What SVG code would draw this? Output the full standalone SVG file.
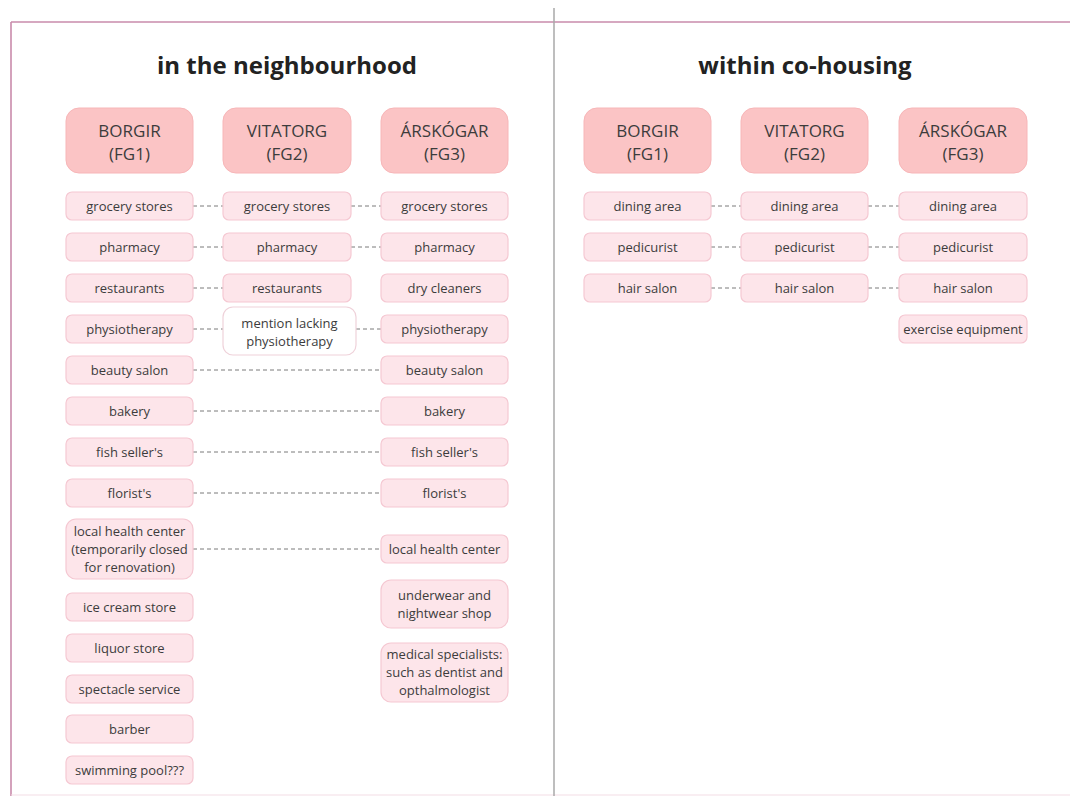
<svg xmlns="http://www.w3.org/2000/svg" width="1070" height="796" viewBox="0 0 1070 796">
<style>
text{font-family:"Open Sans","Noto Sans","Liberation Sans",sans-serif;fill:#3c3c3c;text-anchor:middle}
.title{font-size:24px;font-weight:bold;fill:#222}
.hd rect{fill:#fbc4c5;stroke:#f7b6b8;stroke-width:1}
.hd text{font-size:17px}
.n rect{fill:#fde5ea;stroke:#f5c8d2;stroke-width:1.2}
.n text,.w text{font-size:13px}
.w rect{fill:#ffffff;stroke:#efd2da;stroke-width:1.2}
#connectors line{stroke:#7a7a7a;stroke-width:1;stroke-dasharray:4 3}
</style>
<rect width="1070" height="796" fill="#ffffff"/>
<g id="frame">
<line x1="11" y1="22" x2="1070" y2="22" stroke="#c98bab" stroke-width="1.6"/>
<line x1="11" y1="22" x2="11" y2="796" stroke="#c98bab" stroke-width="1.6"/>
<line x1="11" y1="795" x2="1070" y2="795" stroke="#f3dde6" stroke-width="1.2"/>
<line x1="554" y1="8" x2="554" y2="796" stroke="#a9a9a9" stroke-width="1.5"/>
</g>
<text class="title" x="287" y="74">in the neighbourhood</text>
<text class="title" x="805" y="74">within co-housing</text>

<g id="connectors">
<line x1="193" y1="206" x2="223" y2="206"/>
<line x1="351" y1="206" x2="381" y2="206"/>
<line x1="193" y1="247" x2="223" y2="247"/>
<line x1="351" y1="247" x2="381" y2="247"/>
<line x1="193" y1="288" x2="223" y2="288"/>
<line x1="193" y1="329" x2="223" y2="329"/>
<line x1="356" y1="329" x2="381" y2="329"/>
<line x1="193" y1="370" x2="381" y2="370"/>
<line x1="193" y1="411" x2="381" y2="411"/>
<line x1="193" y1="452" x2="381" y2="452"/>
<line x1="193" y1="493" x2="381" y2="493"/>
<line x1="193" y1="549" x2="381" y2="549"/>
<line x1="711" y1="206" x2="741" y2="206"/>
<line x1="868" y1="206" x2="899" y2="206"/>
<line x1="711" y1="247" x2="741" y2="247"/>
<line x1="868" y1="247" x2="899" y2="247"/>
<line x1="711" y1="288" x2="741" y2="288"/>
<line x1="868" y1="288" x2="899" y2="288"/>
</g>

<!-- headers left -->
<g id="h-l-fg1" class="hd"><rect x="66" y="108" width="127" height="65" rx="13"/><text x="129.5" y="136.5">BORGIR</text><text x="129.5" y="160">(FG1)</text></g>
<g id="h-l-fg2" class="hd"><rect x="223" y="108" width="128" height="65" rx="13"/><text x="287" y="136.5">VITATORG</text><text x="287" y="160">(FG2)</text></g>
<g id="h-l-fg3" class="hd"><rect x="381" y="108" width="127" height="65" rx="13"/><text x="444.5" y="136.5">ÁRSKÓGAR</text><text x="444.5" y="160">(FG3)</text></g>
<!-- headers right -->
<g id="h-r-fg1" class="hd"><rect x="584" y="108" width="127" height="65" rx="13"/><text x="647.5" y="136.5">BORGIR</text><text x="647.5" y="160">(FG1)</text></g>
<g id="h-r-fg2" class="hd"><rect x="741" y="108" width="127" height="65" rx="13"/><text x="804.5" y="136.5">VITATORG</text><text x="804.5" y="160">(FG2)</text></g>
<g id="h-r-fg3" class="hd"><rect x="899" y="108" width="128" height="65" rx="13"/><text x="963" y="136.5">ÁRSKÓGAR</text><text x="963" y="160">(FG3)</text></g>

<!-- left column 1 -->
<g id="l1-grocery" class="n"><rect x="66" y="192" width="127" height="28" rx="6"/><text x="129.5" y="210.5">grocery stores</text></g>
<g id="l1-pharmacy" class="n"><rect x="66" y="233" width="127" height="28" rx="6"/><text x="129.5" y="251.5">pharmacy</text></g>
<g id="l1-restaurants" class="n"><rect x="66" y="274" width="127" height="28" rx="6"/><text x="129.5" y="292.5">restaurants</text></g>
<g id="l1-physio" class="n"><rect x="66" y="315" width="127" height="28" rx="6"/><text x="129.5" y="333.5">physiotherapy</text></g>
<g id="l1-beauty" class="n"><rect x="66" y="356" width="127" height="28" rx="6"/><text x="129.5" y="374.5">beauty salon</text></g>
<g id="l1-bakery" class="n"><rect x="66" y="397" width="127" height="28" rx="6"/><text x="129.5" y="415.5">bakery</text></g>
<g id="l1-fish" class="n"><rect x="66" y="438" width="127" height="28" rx="6"/><text x="129.5" y="456.5">fish seller's</text></g>
<g id="l1-florist" class="n"><rect x="66" y="479" width="127" height="28" rx="6"/><text x="129.5" y="497.5">florist's</text></g>
<g id="l1-health" class="n"><rect x="66" y="519" width="127" height="60" rx="10"/><text x="129.5" y="535.5">local health center</text><text x="129.5" y="553.5">(temporarily closed</text><text x="129.5" y="571.5">for renovation)</text></g>
<g id="l1-icecream" class="n"><rect x="66" y="593" width="127" height="28" rx="6"/><text x="129.5" y="611.5">ice cream store</text></g>
<g id="l1-liquor" class="n"><rect x="66" y="634" width="127" height="28" rx="6"/><text x="129.5" y="652.5">liquor store</text></g>
<g id="l1-spectacle" class="n"><rect x="66" y="675" width="127" height="28" rx="6"/><text x="129.5" y="693.5">spectacle service</text></g>
<g id="l1-barber" class="n"><rect x="66" y="715" width="127" height="28" rx="6"/><text x="129.5" y="733.5">barber</text></g>
<g id="l1-pool" class="n"><rect x="66" y="756" width="127" height="28" rx="6"/><text x="129.5" y="774.5">swimming pool???</text></g>

<!-- left column 2 -->
<g id="l2-grocery" class="n"><rect x="223" y="192" width="128" height="28" rx="6"/><text x="287" y="210.5">grocery stores</text></g>
<g id="l2-pharmacy" class="n"><rect x="223" y="233" width="128" height="28" rx="6"/><text x="287" y="251.5">pharmacy</text></g>
<g id="l2-restaurants" class="n"><rect x="223" y="274" width="128" height="28" rx="6"/><text x="287" y="292.5">restaurants</text></g>
<g id="l2-mention" class="w"><rect x="223" y="307" width="133" height="48" rx="10"/><text x="289.5" y="328">mention lacking</text><text x="289.5" y="346">physiotherapy</text></g>

<!-- left column 3 -->
<g id="l3-grocery" class="n"><rect x="381" y="192" width="127" height="28" rx="6"/><text x="444.5" y="210.5">grocery stores</text></g>
<g id="l3-pharmacy" class="n"><rect x="381" y="233" width="127" height="28" rx="6"/><text x="444.5" y="251.5">pharmacy</text></g>
<g id="l3-drycleaners" class="n"><rect x="381" y="274" width="127" height="28" rx="6"/><text x="444.5" y="292.5">dry cleaners</text></g>
<g id="l3-physio" class="n"><rect x="381" y="315" width="127" height="28" rx="6"/><text x="444.5" y="333.5">physiotherapy</text></g>
<g id="l3-beauty" class="n"><rect x="381" y="356" width="127" height="28" rx="6"/><text x="444.5" y="374.5">beauty salon</text></g>
<g id="l3-bakery" class="n"><rect x="381" y="397" width="127" height="28" rx="6"/><text x="444.5" y="415.5">bakery</text></g>
<g id="l3-fish" class="n"><rect x="381" y="438" width="127" height="28" rx="6"/><text x="444.5" y="456.5">fish seller's</text></g>
<g id="l3-florist" class="n"><rect x="381" y="479" width="127" height="28" rx="6"/><text x="444.5" y="497.5">florist's</text></g>
<g id="l3-health" class="n"><rect x="381" y="535" width="127" height="28" rx="6"/><text x="444.5" y="553.5">local health center</text></g>
<g id="l3-underwear" class="n"><rect x="381" y="580" width="127" height="48" rx="10"/><text x="444.5" y="599.5">underwear and</text><text x="444.5" y="617.5">nightwear shop</text></g>
<g id="l3-medical" class="n"><rect x="381" y="643" width="127" height="59" rx="10"/><text x="444.5" y="659">medical specialists:</text><text x="444.5" y="677">such as dentist and</text><text x="444.5" y="695">opthalmologist</text></g>

<!-- right panel -->
<g id="r1-dining" class="n"><rect x="584" y="192" width="127" height="28" rx="6"/><text x="647.5" y="210.5">dining area</text></g>
<g id="r1-pedicurist" class="n"><rect x="584" y="233" width="127" height="28" rx="6"/><text x="647.5" y="251.5">pedicurist</text></g>
<g id="r1-hair" class="n"><rect x="584" y="274" width="127" height="28" rx="6"/><text x="647.5" y="292.5">hair salon</text></g>
<g id="r2-dining" class="n"><rect x="741" y="192" width="127" height="28" rx="6"/><text x="804.5" y="210.5">dining area</text></g>
<g id="r2-pedicurist" class="n"><rect x="741" y="233" width="127" height="28" rx="6"/><text x="804.5" y="251.5">pedicurist</text></g>
<g id="r2-hair" class="n"><rect x="741" y="274" width="127" height="28" rx="6"/><text x="804.5" y="292.5">hair salon</text></g>
<g id="r3-dining" class="n"><rect x="899" y="192" width="128" height="28" rx="6"/><text x="963" y="210.5">dining area</text></g>
<g id="r3-pedicurist" class="n"><rect x="899" y="233" width="128" height="28" rx="6"/><text x="963" y="251.5">pedicurist</text></g>
<g id="r3-hair" class="n"><rect x="899" y="274" width="128" height="28" rx="6"/><text x="963" y="292.5">hair salon</text></g>
<g id="r3-exercise" class="n"><rect x="899" y="315" width="128" height="28" rx="6"/><text x="963" y="333.5">exercise equipment</text></g>
</svg>
